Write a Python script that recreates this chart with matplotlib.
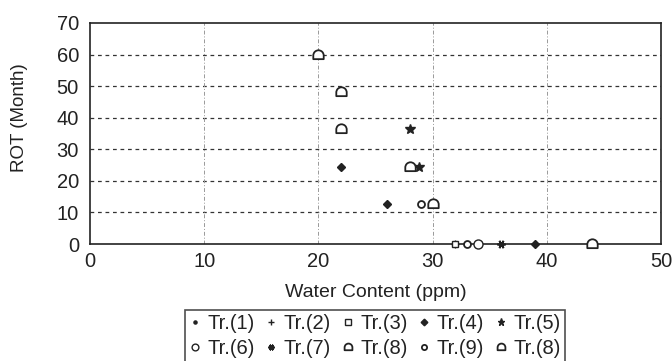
import matplotlib
matplotlib.use("Agg")
import matplotlib.pyplot as plt
import matplotlib.path as mpath
import numpy as np

plt.rcParams['font.family'] = ['Liberation Sans', 'DejaVu Sans']

# ---- data ----
tr1_x, tr1_y = [32], [0]
tr2_x, tr2_y = [32], [0]
tr3_x, tr3_y = [32], [0]
tr4_x, tr4_y = [22, 26, 39], [24.5, 12.7, 0]
tr5_x, tr5_y = [28, 28.8], [36.5, 24.5]
tr6_x, tr6_y = [34], [0]
tr7_x, tr7_y = [36], [0]
tr8_x, tr8_y = [20, 22, 44], [60, 48, 0]
tr9_x, tr9_y = [29, 33], [12.7, 0]
tr8b_x, tr8b_y = [22, 28, 30], [36.5, 24.5, 12.7]

labels = ["Tr.(1)", "Tr.(2)", "Tr.(3)", "Tr.(4)", "Tr.(5)",
          "Tr.(6)", "Tr.(7)", "Tr.(8)", "Tr.(9)", "Tr.(8)"]
x_ticks = [0, 10, 20, 30, 40, 50]
y_ticks = [0, 10, 20, 30, 40, 50, 60, 70]

# dome marker
arc = mpath.Path.arc(0, 180)
verts = list(arc.vertices) + [(-1, -0.7), (1, -0.7), (1, 0)]
codes = list(arc.codes) + [mpath.Path.LINETO, mpath.Path.LINETO, mpath.Path.CLOSEPOLY]
dome = mpath.Path(verts, codes)

INK = '#222222'

fig = plt.figure(figsize=(6.72, 3.61), dpi=100)
ax = fig.add_axes([90/672, 1-244/361, (661-90)/672, (244-23)/361])

ax.set_xlim(0, 50)
ax.set_ylim(0, 70)
ax.set_xticks(x_ticks)
ax.set_yticks(y_ticks)
ax.tick_params(length=0, labelsize=14.5, colors=INK)
ax.tick_params(axis='x', pad=6)
ax.tick_params(axis='y', pad=8)

for y in y_ticks[1:-1]:
    ax.axhline(y, color='#333333', lw=0.9, ls=(0, (3, 3)), zorder=1)
for x in x_ticks[1:-1]:
    ax.axvline(x, color='#999999', lw=0.7, ls=(0, (4, 2, 1, 2)), zorder=1)

for s in ax.spines.values():
    s.set_linewidth(1.2)
    s.set_color(INK)

series = [
    (tr1_x, tr1_y, dict(marker='o', ms=3, mfc=INK, mec=INK)),
    (tr2_x, tr2_y, dict(marker='+', ms=6, mec=INK, mew=1)),
    (tr3_x, tr3_y, dict(marker='s', ms=5, mfc='white', mec=INK, mew=1)),
    (tr4_x, tr4_y, dict(marker='D', ms=4.5, mfc=INK, mec=INK)),
    (tr5_x, tr5_y, dict(marker='*', ms=7, mfc=INK, mec=INK)),
    (tr6_x, tr6_y, dict(marker='o', ms=6.5, mfc='white', mec=INK, mew=1)),
    (tr7_x, tr7_y, dict(marker=(6, 2, 30), ms=6, mec=INK, mew=1.3)),
    (tr8_x, tr8_y, dict(marker=dome, ms=7.5, mfc='white', mec=INK, mew=1.3)),
    (tr9_x, tr9_y, dict(marker='o', ms=5, mfc='white', mec=INK, mew=1.3)),
    (tr8b_x, tr8b_y, dict(marker=dome, ms=7.5, mfc='white', mec=INK, mew=1.3)),
]
handles = []
for (xs, ys, kw), lab in zip(series, labels):
    h, = ax.plot(xs, ys, ls='none', label=lab, clip_on=False, zorder=3, **kw)
    handles.append(h)

ax.set_xlabel("Water Content (ppm)", fontsize=14, color=INK, labelpad=9)
ax.set_ylabel("ROT (Month)", fontsize=13.5, color=INK)
ax.yaxis.set_label_coords(-0.108, 0.57)

order = [0, 5, 1, 6, 2, 7, 3, 8, 4, 9]
leg = fig.legend([handles[i] for i in order], [labels[i] for i in order],
                 ncol=5, loc='upper left', bbox_to_anchor=(185/672, 1-310/361),
                 bbox_transform=fig.transFigure, fontsize=14.5, frameon=True,
                 fancybox=False, edgecolor=INK, handlelength=0.55,
                 handletextpad=0.35, columnspacing=0.55, labelspacing=0.3,
                 borderpad=0.2, borderaxespad=0, markerscale=0.75)
leg.get_frame().set_linewidth(1.2)
for t in leg.get_texts():
    t.set_color(INK)

fig.savefig("out.png", dpi=100)
